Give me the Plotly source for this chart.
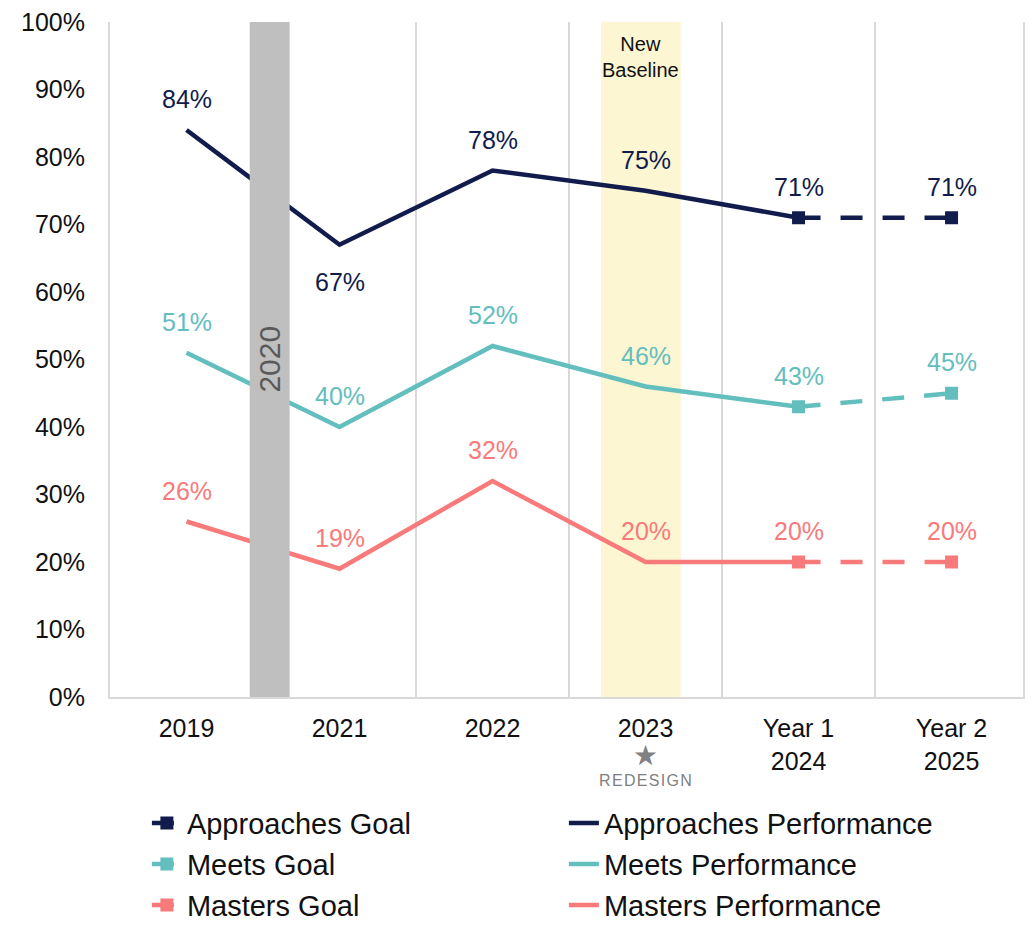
import plotly.graph_objects as go

# categories and values (percent)
categories = ["2019", "2021", "2022", "2023", "Year 1<br>2024", "Year 2<br>2025"]
perf_cats = categories[:5]
goal_cats = categories[4:]

approaches_perf = [84, 67, 78, 75, 71]
approaches_goal = [71, 71]
meets_perf = [51, 40, 52, 46, 43]
meets_goal = [43, 45]
masters_perf = [26, 19, 32, 20, 20]
masters_goal = [20, 20]

# label placement per point: 1 = above, -1 = below
approaches_pos = [1, -1, 1, 1, 1, 1]
meets_pos = [1, 1, 1, 1, 1, 1]
masters_pos = [1, 1, 1, 1, 1, 1]

NAVY = "#111C4C"
TEAL = "#63BEBE"
SALMON = "#F87A7A"
FONT = "Arial, Liberation Sans, sans-serif"

series = [
    ("Approaches", approaches_perf, approaches_goal, approaches_pos, NAVY, "legend"),
    ("Meets", meets_perf, meets_goal, meets_pos, TEAL, "legend2"),
    ("Masters", masters_perf, masters_goal, masters_pos, SALMON, "legend3"),
]

fig = go.Figure()
annotations = []

for name, perf, goal, pos, color, leg in series:
    fig.add_trace(go.Scatter(
        x=goal_cats, y=goal, name=f"{name} Goal", mode="lines+markers",
        line=dict(color=color, width=4.5, dash="22px,20px"),
        marker=dict(symbol="square", size=13, color=color),
        legend=leg,
    ))
    fig.add_trace(go.Scatter(
        x=perf_cats, y=perf, name=f"{name} Performance", mode="lines",
        line=dict(color=color, width=4.5),
        legend=leg,
    ))
    # data labels: performance points plus the final goal point
    label_x = perf_cats + goal_cats[1:]
    label_y = perf + goal[1:]
    for cx, cy, p in zip(label_x, label_y, pos):
        annotations.append(dict(
            x=categories.index(cx), y=cy, text=f"{cy}%", showarrow=False,
            yshift=31 if p > 0 else -37,
            font=dict(size=25, color=color, family=FONT),
        ))

# 2020 gap bar and new-baseline band
shapes = [
    dict(type="rect", xref="x", yref="paper", x0=0.413, x1=0.674, y0=0, y1=1,
         fillcolor="#BFBFBF", line=dict(width=0), layer="above"),
    dict(type="rect", xref="x", yref="paper", x0=2.709, x1=3.231, y0=-0.003, y1=1,
         fillcolor="#FCF6D3", line=dict(width=0), layer="below"),
]

annotations += [
    dict(x=0.544, y=50.1, text="2020", textangle=-90, showarrow=False,
         font=dict(size=30, color="#595959", family=FONT)),
    dict(x=2.97, y=94.8, text="New<br>Baseline", showarrow=False,
         font=dict(size=20, color="#111111", family=FONT)),
    dict(x=3, xref="x", y=-0.086, yref="paper", yanchor="middle", text="★",
         showarrow=False, font=dict(size=28, color="#808080", family=FONT)),
    dict(x=3, xref="x", y=-0.123, yref="paper", yanchor="middle",
         text="\u200a".join("REDESIGN"),
         showarrow=False, font=dict(size=16, color="#808080", family=FONT)),
]

legend_style = dict(
    orientation="h", xanchor="left", yanchor="middle", x=0.0404,
    yref="container",
    entrywidth=372, entrywidthmode="pixels",
    font=dict(size=29, color="#111111", family=FONT),
    bgcolor="rgba(0,0,0,0)", itemclick=False,
)

fig.update_layout(
    width=1017, height=921,
    margin=dict(l=102, r=0, t=14, b=232),
    plot_bgcolor="white", paper_bgcolor="white",
    font=dict(family=FONT, color="#111111"),
    shapes=shapes, annotations=annotations,
    legend=dict(legend_style, y=0.1150),
    legend2=dict(legend_style, y=0.0705),
    legend3=dict(legend_style, y=0.0260),
    xaxis=dict(
        type="category", categoryorder="array", categoryarray=categories,
        range=[-0.5, 5.467], tickson="boundaries", ticks="",
        showgrid=True, gridcolor="#D9D9D9", gridwidth=2,
        showline=True, linecolor="#D9D9D9", linewidth=2,
        ticklabelstandoff=8,
        tickfont=dict(size=25, color="#111111", family=FONT),
        fixedrange=True,
    ),
    yaxis=dict(
        range=[0, 100], dtick=10, ticksuffix="%", showgrid=False,
        showline=True, linecolor="#D9D9D9", linewidth=2, zeroline=False,
        mirror=True,
        ticks="", ticklabelstandoff=18, ticklabeloverflow="allow",
        tickfont=dict(size=25, color="#111111", family=FONT),
        fixedrange=True,
    ),
)

fig.write_html("out.html")
